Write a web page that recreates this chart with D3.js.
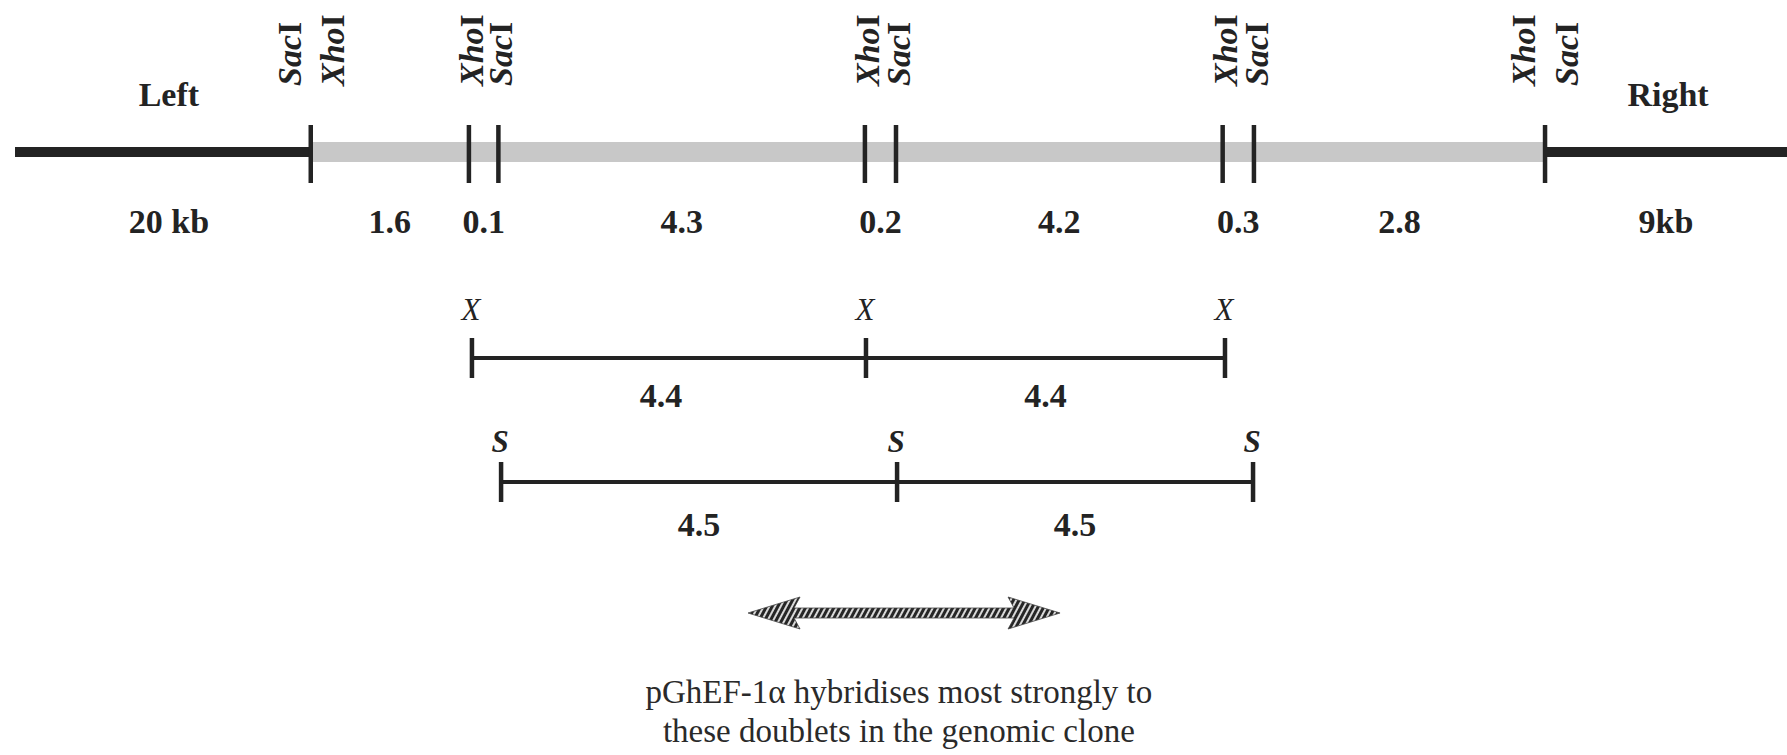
<!DOCTYPE html>
<html>
<head>
<meta charset="utf-8">
<script src="https://cdn.jsdelivr.net/npm/d3@7"></script>
<style>
  html, body { margin: 0; padding: 0; background: #fff; }
  svg { display: block; }
</style>
</head>
<body>
<svg id="chart" width="1787" height="755"></svg>
<script>
// ---- data (schematic map positions, in % of map width; map not drawn to scale) ----
const siteEnzymes = [["Sac", "Xho"], ["Xho"], ["Sac"], ["Xho"], ["Sac"], ["Xho"], ["Sac"], ["Xho", "Sac"]];
const sitePos = [17.39, 26.24, 27.89, 48.40, 50.14, 68.42, 70.17, 86.46];
const mapEnds = [0.84, 100];
const segmentLabels = ["20 kb", "1.6", "0.1", "4.3", "0.2", "4.2", "0.3", "2.8", "9kb"];
const armLabels = ["Left", "Right"];
const xhoFragSites = [26.41, 48.46, 68.55];
const xhoFragLabels = ["4.4", "4.4"];
const sacFragSites = [28.04, 50.20, 70.12];
const sacFragLabels = ["4.5", "4.5"];
const probeSpan = [41.86, 59.32];
const captionLines = ["pGhEF-1\u03b1 hybridises most strongly to", "these doublets in the genomic clone"];

// ---- layout ----
const W = 1787, H = 755;
const svg = d3.select("#chart");
const x = d3.scaleLinear().domain([0, 100]).range([0, W]);
const serif = "'Liberation Serif', 'Times New Roman', Times, serif";
const ink = "#232323";

const mainY = 152;
// black flanking arms
svg.append("g").selectAll("line")
  .data([[mapEnds[0], sitePos[0]], [sitePos[sitePos.length - 1], mapEnds[1]]])
  .join("line")
  .attr("x1", d => x(d[0])).attr("x2", d => x(d[1]))
  .attr("y1", mainY).attr("y2", mainY)
  .attr("stroke", ink).attr("stroke-width", 10);

// grey cloned region
svg.append("rect")
  .attr("x", x(sitePos[0])).attr("width", x(sitePos[sitePos.length - 1]) - x(sitePos[0]))
  .attr("y", mainY - 10).attr("height", 20)
  .attr("fill", "#c8c8c8");

// site ticks
svg.append("g").selectAll("line")
  .data(sitePos).join("line")
  .attr("x1", d => x(d)).attr("x2", d => x(d))
  .attr("y1", 125).attr("y2", 183)
  .attr("stroke", ink).attr("stroke-width", 4.5);

// enzyme labels (rotated)
const enzLabels = [];
sitePos.forEach((p, i) => {
  const names = siteEnzymes[i];
  if (names.length === 1) {
    enzLabels.push({ name: names[0], bx: x(p) + 14 });
  } else {
    enzLabels.push({ name: names[0], bx: x(p) - 10 });
    enzLabels.push({ name: names[1], bx: x(p) + 33 });
  }
});
const enz = svg.append("g").selectAll("text")
  .data(enzLabels).join("text")
  .attr("transform", d => `translate(${d.bx},86) rotate(-90)`)
  .attr("font-family", serif).attr("font-size", 34).attr("font-weight", "bold")
  .attr("fill", ink).attr("text-anchor", "start");
enz.append("tspan").attr("font-style", "italic").text(d => d.name);
enz.append("tspan").text("I");

// segment size labels (midpoints of segments)
const bounds = [mapEnds[0], ...sitePos, mapEnds[1]];
const segMids = d3.pairs(bounds).map(([a, b]) => (a + b) / 2);
svg.append("g").selectAll("text")
  .data(segmentLabels).join("text")
  .attr("x", (d, i) => x(segMids[i]) + (i === 0 ? 6 : 0))
  .attr("y", 233)
  .attr("text-anchor", "middle")
  .attr("font-family", serif).attr("font-size", 34).attr("font-weight", "bold")
  .attr("fill", ink).text(d => d);

// arm labels
svg.append("g").selectAll("text")
  .data(armLabels).join("text")
  .attr("x", (d, i) => x(i === 0 ? segMids[0] : segMids[segMids.length - 1]) + (i === 0 ? 6 : 2))
  .attr("y", 106)
  .attr("text-anchor", "middle")
  .attr("font-family", serif).attr("font-size", 34).attr("font-weight", "bold")
  .attr("fill", ink).text(d => d);

// fragment maps
function fragmentMap(sites, labels, letter, lineY, letterY, sizeY, letterWeight, firstShift) {
  const g = svg.append("g");
  g.append("line")
    .attr("x1", x(sites[0])).attr("x2", x(sites[sites.length - 1]))
    .attr("y1", lineY).attr("y2", lineY)
    .attr("stroke", ink).attr("stroke-width", 4);
  g.selectAll("line.tick").data(sites).join("line").attr("class", "tick")
    .attr("x1", d => x(d)).attr("x2", d => x(d))
    .attr("y1", lineY - 20).attr("y2", lineY + 20)
    .attr("stroke", ink).attr("stroke-width", 4.5);
  g.selectAll("text.letter").data(sites).join("text").attr("class", "letter")
    .attr("x", d => x(d) - 1).attr("y", letterY)
    .attr("text-anchor", "middle")
    .attr("font-family", serif).attr("font-size", 31).attr("font-style", "italic")
    .attr("font-weight", letterWeight)
    .attr("fill", ink).text(letter);
  const mids = d3.pairs(sites).map(([a, b]) => (a + b) / 2);
  g.selectAll("text.size").data(labels).join("text").attr("class", "size")
    .attr("x", (d, i) => x(mids[i]) + (i === 0 ? firstShift : 0)).attr("y", sizeY)
    .attr("text-anchor", "middle")
    .attr("font-family", serif).attr("font-size", 34).attr("font-weight", "bold")
    .attr("fill", ink).text(d => d);
}
fragmentMap(xhoFragSites, xhoFragLabels, "X", 358, 320, 407, "normal", -8);
fragmentMap(sacFragSites, sacFragLabels, "S", 482, 452, 536, "bold", 0);

// hatched double arrow (probe)
const defs = svg.append("defs");
const pat = defs.append("pattern")
  .attr("id", "hatch").attr("patternUnits", "userSpaceOnUse")
  .attr("width", 5).attr("height", 10)
  .attr("patternTransform", "rotate(28)");
pat.append("rect").attr("width", 5).attr("height", 10).attr("fill", "#d9d9d9");
pat.append("rect").attr("width", 3).attr("height", 10).attr("fill", "#262626");

const ay = 613, headLen = 52, headHalf = 16, shaftHalf = 5;
const ax0 = x(probeSpan[0]), ax1 = x(probeSpan[1]);
const p = d3.path();
p.moveTo(ax0, ay);
p.lineTo(ax0 + headLen, ay - headHalf);
p.lineTo(ax0 + headLen - 6, ay - shaftHalf);
p.lineTo(ax1 - headLen + 6, ay - shaftHalf);
p.lineTo(ax1 - headLen, ay - headHalf);
p.lineTo(ax1, ay);
p.lineTo(ax1 - headLen, ay + headHalf);
p.lineTo(ax1 - headLen + 6, ay + shaftHalf);
p.lineTo(ax0 + headLen - 6, ay + shaftHalf);
p.lineTo(ax0 + headLen, ay + headHalf);
p.closePath();
svg.append("path").attr("d", p.toString())
  .attr("fill", "url(#hatch)").attr("stroke", "#444").attr("stroke-width", 0.8);

// caption
svg.append("g").selectAll("text")
  .data(captionLines).join("text")
  .attr("x", x(50.3)).attr("y", (d, i) => 703 + i * 39)
  .attr("text-anchor", "middle")
  .attr("font-family", serif).attr("font-size", 33)
  .attr("fill", "#2a2a2a").text(d => d);
</script>
</body>
</html>
